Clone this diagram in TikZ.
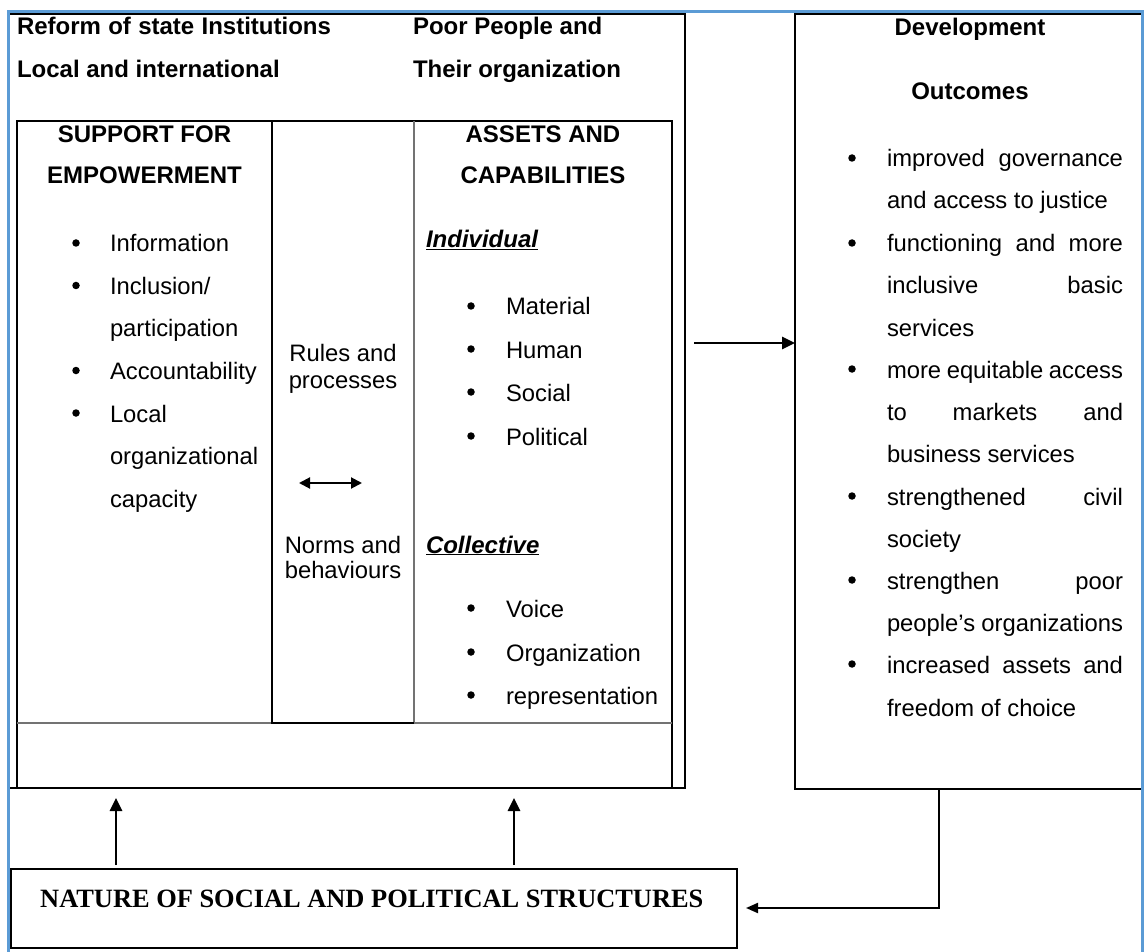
\documentclass[tikz,border=0pt]{standalone}
\usepackage{fontspec}
\setmainfont{Liberation Sans}
\newfontfamily\titleserif{Liberation Serif}
\usetikzlibrary{arrows.meta}
\definecolor{frameblue}{RGB}{91,155,213}
\newcommand\bodysize{\fontsize{23.8}{28}\selectfont}
\newcommand\headsize{\fontsize{24}{28}\selectfont\bfseries}
\newcommand\jline[1]{\hbox to 236pt{#1}}
\begin{document}
\begin{tikzpicture}[x=1pt,y=-1pt,
  txt/.style={anchor=base west,inner sep=0pt,outer sep=0pt,font=\bodysize},
  ctr/.style={anchor=base,inner sep=0pt,outer sep=0pt,font=\bodysize},
  head/.style={anchor=base west,inner sep=0pt,outer sep=0pt,font=\headsize},
  headc/.style={anchor=base,inner sep=0pt,outer sep=0pt,font=\headsize},
  bul/.style={circle,fill=black,inner sep=0pt,minimum size=7.5pt},
  panel/.style={draw=black,line width=1.8pt,inner sep=0pt,outer sep=0pt,anchor=north west},
  arr/.style={line width=2.6pt,-{Triangle[length=13pt,width=12pt]}},
  arrthin/.style={line width=2pt,-{Triangle[length=12pt,width=10pt]}},
  twoway/.style={line width=2pt,{Triangle[length=11pt,width=11pt]}-{Triangle[length=11pt,width=11pt]}},
  thin/.style={draw=black!55,line width=1.1pt},
  thick/.style={draw=black,line width=2pt}
]
\useasboundingbox (0,0) rectangle (1144,952);

% outer panels
\node[panel,minimum width=676pt,minimum height=774pt] (outer) at (9,14) {};
\node[panel,line width=2pt,minimum width=655pt,minimum height=667pt] (inner) at (17,121) {};
\node[panel,line width=2pt,minimum width=347pt,minimum height=775pt] (dev) at (795,14) {};
\node[panel,minimum width=726pt,minimum height=79pt] (nature) at (11,869) {};

% column dividers and lower strip
\coordinate (c1t) at (272,121); \coordinate (c1b) at (272,723);
\coordinate (c2t) at (414,121); \coordinate (c2b) at (414,723);
\coordinate (rl) at (17,723); \coordinate (rr) at (672,723);
\draw[thin] (rl) -- (rr);
\draw[thin] (c2t) -- (c2b);
\draw[thick] (c1t) -- (c1b) -- (c2b);

% headings
\node[head] (h1) at (17,35) {\hbox to 314pt{Reform\hfill of\hfill state\hfill Institutions}};
\node[head] (h2) at (17,78) {Local and international};
\node[head] (h3) at (413,35) {Poor People and};
\node[head] (h4) at (413,78) {Their organization};
\node[headc] (d1) at (970,36) {Development};
\node[headc] (d2) at (970,100) {Outcomes};
\node[headc] (s1) at (144.5,143) {SUPPORT FOR};
\node[headc] (s2) at (144.5,184) {EMPOWERMENT};
\node[headc] (a1) at (543,143) {ASSETS AND};
\node[headc] (a2) at (543,184) {CAPABILITIES};

% support for empowerment
\node[bul] (lb1) at (76,243) {};
\node[bul] (lb2) at (76,285.5) {};
\node[bul] (lb3) at (76,370.5) {};
\node[bul] (lb4) at (76,413) {};
\node[txt] (l1) at (110,252) {Information};
\node[txt] (l2) at (110,294.5) {Inclusion/};
\node[txt] (l3) at (110,337) {participation};
\node[txt] (l4) at (110,379.5) {Accountability};
\node[txt] (l5) at (110,422) {Local};
\node[txt] (l6) at (110,464.5) {organizational};
\node[txt] (l7) at (110,507) {capacity};

% rules and norms
\node[ctr] (m1) at (343,361) {Rules and};
\node[ctr] (m2) at (343,388) {processes};
\node[ctr] (m3) at (343,553) {Norms and};
\node[ctr] (m4) at (343,578) {behaviours};
\coordinate (tw1) at (299,483); \coordinate (tw2) at (362,483);
\draw[twoway] (tw1) -- (tw2);

% assets and capabilities
\node[head,font=\headsize\itshape] (ind) at (426,248) {\underline{Individual}};
\node[bul] (rb1) at (471,306) {};
\node[bul] (rb2) at (471,349) {};
\node[bul] (rb3) at (471,392) {};
\node[bul] (rb4) at (471,436) {};
\node[txt] (r1) at (506,315) {Material};
\node[txt] (r2) at (506,358) {Human};
\node[txt] (r3) at (506,401) {Social};
\node[txt] (r4) at (506,445) {Political};
\node[head,font=\headsize\itshape] (col) at (426,553) {\underline{Collective}};
\node[bul] (rb5) at (471,608) {};
\node[bul] (rb6) at (471,652) {};
\node[bul] (rb7) at (471,695) {};
\node[txt] (r5) at (506,617) {Voice};
\node[txt] (r6) at (506,661) {Organization};
\node[txt] (r7) at (506,704) {representation};

% development outcomes
\node[bul] (db1) at (852,158) {};
\node[bul] (db2) at (852,243) {};
\node[bul] (db3) at (852,369) {};
\node[bul] (db4) at (852,496) {};
\node[bul] (db5) at (852,580) {};
\node[bul] (db6) at (852,664) {};
\node[txt] (o1) at (887,167) {\jline{improved\hfill governance}};
\node[txt] (o2) at (887,209) {and access to justice};
\node[txt] (o3) at (887,252) {\jline{functioning\hfill and\hfill more}};
\node[txt] (o4) at (887,294) {\jline{inclusive\hfill basic}};
\node[txt] (o5) at (887,336) {services};
\node[txt] (o6) at (887,378) {\jline{more\hfill equitable\hfill access}};
\node[txt] (o7) at (887,420) {\jline{to\hfill markets\hfill and}};
\node[txt] (o8) at (887,462) {business services};
\node[txt] (o9) at (887,505) {\jline{strengthened\hfill civil}};
\node[txt] (o10) at (887,547) {society};
\node[txt] (o11) at (887,589) {\jline{strengthen\hfill poor}};
\node[txt] (o12) at (887,631) {\jline{people’s\hfill organizations}};
\node[txt] (o13) at (887,673) {\jline{increased\hfill assets\hfill and}};
\node[txt] (o14) at (887,716) {freedom of choice};

% structures
\node[anchor=base west,inner sep=0pt,font=\titleserif\bfseries\fontsize{26.4}{30}\selectfont] (nt) at (40,907) {NATURE OF SOCIAL AND POLITICAL STRUCTURES};

% connectors
\coordinate (ra) at (694,343);
\draw[arr] (ra) -- (ra -| dev.west);
\coordinate (u1) at (116,865); \coordinate (u1t) at (116,798);
\coordinate (u2) at (514,865); \coordinate (u2t) at (514,798);
\draw[arr] (u1) -- (u1t);
\draw[arr] (u2) -- (u2t);
\coordinate (fb) at (939,789); \coordinate (fbt) at (746,908);
\draw[arrthin] (fb) |- (fbt);

% blue page frame
\draw[frameblue,line width=3pt] (8.5,952) -- (8.5,11.5) -- (1142.5,11.5) -- (1142.5,952);
\end{tikzpicture}
\end{document}
